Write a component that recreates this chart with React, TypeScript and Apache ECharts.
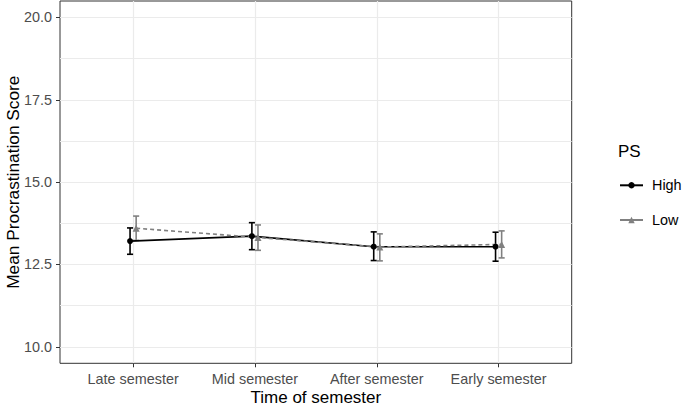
import React, { useEffect, useRef } from "react";
import * as echarts from "echarts";

const categories = ["Late semester", "Mid semester", "After semester", "Early semester"];
const seriesNames = ["High", "Low"];
const highMean = [13.21, 13.36, 13.04, 13.04];
const highLower = [12.81, 12.95, 12.62, 12.6];
const highUpper = [13.61, 13.77, 13.49, 13.48];
const lowMean = [13.6, 13.32, 13.03, 13.11];
const lowLower = [13.23, 12.93, 12.61, 12.7];
const lowUpper = [13.97, 13.7, 13.43, 13.52];
const yTicks = [10, 12.5, 15, 17.5, 20];
const yMinorTicks = [11.25, 13.75, 16.25, 18.75];
const xTicks = [0, 1, 2, 3];
const legendTitle = "PS";
const xTitle = "Time of semester";
const yTitle = "Mean Procrastination Score";

export default function App() {
  const ref = useRef<HTMLDivElement>(null);
  useEffect(() => {
    const chart = echarts.init(ref.current!, null, { renderer: "svg" });
    const font = "'Liberation Sans', Arial, Helvetica, sans-serif";
    const dodge = 0.025;
    const black = "#000000";
    const gray = "#808080";
    const pts = (mean: number[], off: number) => mean.map((v, i) => [i + off, v]);
    const errData = (lo: number[], hi: number[], off: number) => lo.map((l, i) => [i + off, l, hi[i]]);
    const errorSeries = (name: string, lo: number[], hi: number[], off: number, color: string) => ({
      type: "custom",
      name,
      z: 1,
      silent: true,
      data: errData(lo, hi, off),
      encode: { x: 0, y: [1, 2] },
      renderItem: (params: any, api: any) => {
        const x = api.value(0);
        const pLo = api.coord([x, api.value(1)]);
        const pHi = api.coord([x, api.value(2)]);
        const hw = api.size([0.025, 0])[0];
        const style = { stroke: color, lineWidth: 1.6, fill: "none" };
        return {
          type: "group",
          children: [
            { type: "line", shape: { x1: pLo[0], y1: pLo[1], x2: pHi[0], y2: pHi[1] }, style },
            { type: "line", shape: { x1: pLo[0] - hw, y1: pLo[1], x2: pLo[0] + hw, y2: pLo[1] }, style },
            { type: "line", shape: { x1: pHi[0] - hw, y1: pHi[1], x2: pHi[0] + hw, y2: pHi[1] }, style },
          ],
        };
      },
    });

    const option: any = {
      animation: false,
      backgroundColor: "#ffffff",
      grid: {
        left: 60,
        right: 113.3,
        top: 1,
        bottom: 43.7,
        show: true,
        borderColor: "#333333",
        borderWidth: 1,
        backgroundColor: "transparent",
        containLabel: false,
        outerBoundsMode: "none",
      },
      xAxis: {
        type: "value",
        min: -0.6,
        max: 3.6,
        name: xTitle,
        nameLocation: "middle",
        nameGap: 26,
        nameMoveOverlap: false,
        nameTextStyle: { fontSize: 17, lineHeight: 17, color: "#000", fontFamily: font },
        axisLine: { show: false, onZero: false },
        axisTick: { show: true, length: 4, customValues: xTicks, lineStyle: { color: "#333333", width: 1 } },
        axisLabel: {
          customValues: xTicks,
          formatter: (v: number) => categories[Math.round(v)] ?? "",
          fontSize: 14.4,
          color: "#4d4d4d",
          fontFamily: font,
          margin: 9,
        },
        splitLine: { show: true, lineStyle: { color: "#ebebeb", width: 1.2 } },
      },
      yAxis: [
        {
          type: "value",
          min: 9.5,
          max: 20.5,
          position: "left",
          name: yTitle,
          nameLocation: "middle",
          nameGap: 38,
          nameMoveOverlap: false,
          nameTextStyle: { fontSize: 17.3, lineHeight: 18, color: "#000", fontFamily: font },
          axisLine: { show: false, onZero: false },
          axisTick: { show: true, length: 4, customValues: yTicks, lineStyle: { color: "#333333", width: 1 } },
          axisLabel: {
            customValues: yTicks,
            formatter: (v: number) => v.toFixed(1),
            fontSize: 14.4,
            color: "#4d4d4d",
            fontFamily: font,
            margin: 8,
          },
          splitLine: { show: true, lineStyle: { color: "#ebebeb", width: 1.2 } },
        },
        {
          type: "value",
          min: 9.5,
          max: 20.5,
          position: "left",
          axisLine: { show: false, onZero: false },
          axisTick: { show: false, customValues: yMinorTicks },
          axisLabel: { show: false, customValues: yMinorTicks },
          splitLine: { show: true, lineStyle: { color: "#ebebeb", width: 1 } },
        },
      ],
      legend: {
        data: seriesNames,
        orient: "vertical",
        left: 619,
        top: 178.3,
        itemWidth: 23,
        itemHeight: 8,
        itemGap: 20.7,
        padding: 0,
        selectedMode: false,
        lineStyle: { type: "solid" },
        textStyle: { fontSize: 14.4, color: "#000", fontFamily: font, padding: [0, 0, 0, 4] },
      },
      graphic: [
        {
          type: "text",
          x: 618,
          y: 151.5,
          style: { text: legendTitle, fontSize: 17, fontFamily: font, fill: "#000", verticalAlign: "middle" },
        },
      ],
      series: [
        {
          type: "line",
          name: seriesNames[0],
          data: pts(highMean, -dodge),
          symbol: "circle",
          symbolSize: 6,
          z: 3,
          itemStyle: { color: black },
          lineStyle: { color: black, width: 1.6, type: "solid" },
        },
        {
          type: "line",
          name: seriesNames[1],
          data: pts(lowMean, dodge),
          symbol: "triangle",
          symbolSize: 7,
          z: 3,
          itemStyle: { color: gray },
          lineStyle: { color: gray, width: 1.6, type: [4, 3] },
        },
        errorSeries("High error", highLower, highUpper, -dodge, black),
        errorSeries("Low error", lowLower, lowUpper, dodge, gray),
      ],
    };
    chart.setOption(option);
    return () => chart.dispose();
  }, []);
  return <div ref={ref} style={{ position: "fixed", left: 0, top: 0, width: 685, height: 407 }} />;
}
